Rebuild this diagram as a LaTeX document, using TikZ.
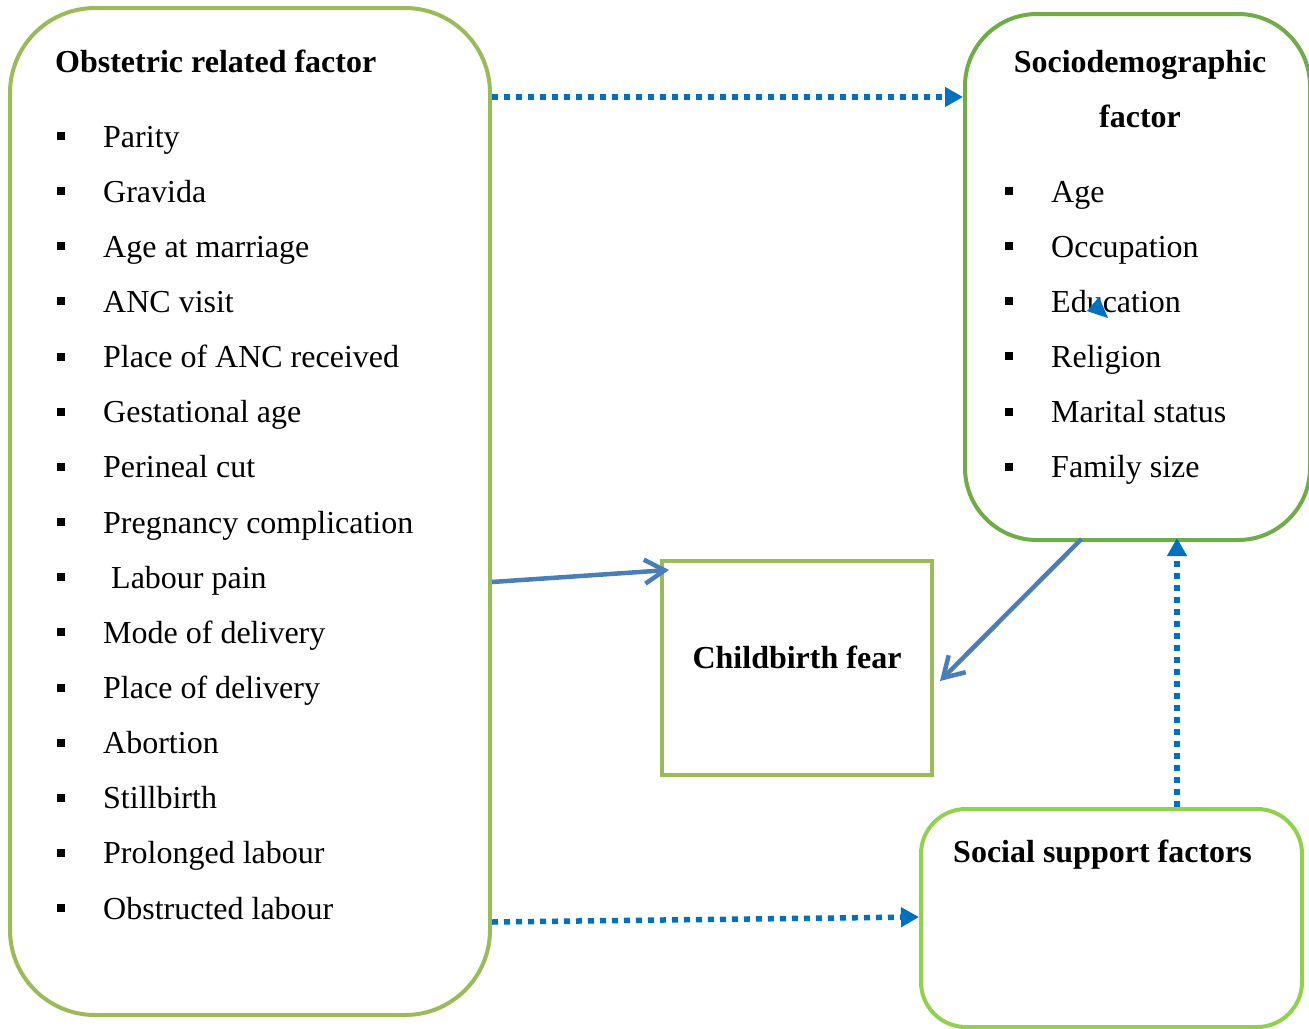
\documentclass[tikz,border=0pt]{standalone}
\usepackage{fontspec}
\setmainfont{Liberation Serif}
\usetikzlibrary{arrows.meta}
\definecolor{gA}{HTML}{9BBB59}
\definecolor{gB}{HTML}{70AD47}
\definecolor{gC}{HTML}{92D050}
\definecolor{bDot}{HTML}{0070C0}
\definecolor{bSolid}{HTML}{4A7EBB}
\newcommand\bulmark{\makebox[46pt][l]{\raisebox{7pt}{\rule{8pt}{8pt}}}}
\begin{document}
\begin{tikzpicture}[x=1pt,y=-1pt,
  box/.style={draw, line width=4pt, fill=none, inner sep=0pt},
  txt/.style={font=\fontsize{32}{38}\selectfont, inner sep=0pt},
  head/.style={font=\fontsize{32}{38}\selectfont\bfseries, inner sep=0pt},
  dotarrow/.style={draw=bDot, line width=5.5pt, dash pattern=on 6pt off 6pt, -{Triangle[length=18pt,width=19pt]}},
  solarrow/.style={draw=bSolid, line width=4.5pt, -{Straight Barb[length=20pt,width=24pt,line width=4.5pt]}}]
\useasboundingbox (0,0) rectangle (1309,1028);
% boxes
\node[box, draw=gA, rounded corners=85pt, minimum width=480pt, minimum height=1007pt] (obst) at (250,511.5) {};
\node[box, draw=gB, rounded corners=72pt, minimum width=345pt, minimum height=526pt] (socio) at (1137.5,277) {};
\node[box, draw=gA, minimum width=270pt, minimum height=214pt] (fear) at (797,668) {};
\node[box, draw=gC, rounded corners=45pt, minimum width=381pt, minimum height=218pt] (support) at (1111.5,918) {};
% headings
\node[head, anchor=base west] (obsth) at (55,72) {Obstetric related factor};
\node[head, anchor=base] (socioh1) at (1140,72) {Sociodemographic};
\node[head, anchor=base] (socioh2) at (1140,127) {factor};
\node[head, anchor=base] (fearh) at (797,668) {Childbirth fear};
\node[head, anchor=base west] (supph) at (953,862) {Social support factors};
% obstetric items
\foreach \t [count=\i from 0] in {Parity, Gravida, Age at marriage, ANC visit, Place of ANC received, Gestational age, Perineal cut, Pregnancy complication, \hspace{8pt}Labour pain, Mode of delivery, Place of delivery, Abortion, Stillbirth, Prolonged labour, Obstructed labour}
  \node[txt, anchor=base west] (o\i) at (57,{147+55.15*\i}) {\bulmark\t};
% sociodemographic items
\foreach \t [count=\i from 0] in {Age, Occupation, Education, Religion, Marital status, Family size}
  \node[txt, anchor=base west] (s\i) at (1005,{202+55.15*\i}) {\bulmark\t};
% stray arrowhead
\fill[bDot] (1087,311) -- (1099,297) -- (1108,318) -- cycle;
% connectors
\coordinate (c1) at (0,97);
\coordinate (c2) at (1177,0);
\coordinate (c3) at (0,922);
\coordinate (c4) at (0,917);
\coordinate (c5) at (0,582);
\draw[dotarrow] (obst.east |- c1) -- (socio.west |- c1);
\draw[dotarrow] (obst.east |- c3) -- (support.west |- c4);
\draw[dotarrow] (support.north -| c2) -- ([yshift=4pt]socio.south -| c2);
\draw[solarrow] (obst.east |- c5) -- ([shift={(9,11)}]fear.north west);
\draw[solarrow] ([xshift=-56pt,yshift=3pt]socio.south) -- ([shift={(6,13)}]fear.east);
\end{tikzpicture}
\end{document}
